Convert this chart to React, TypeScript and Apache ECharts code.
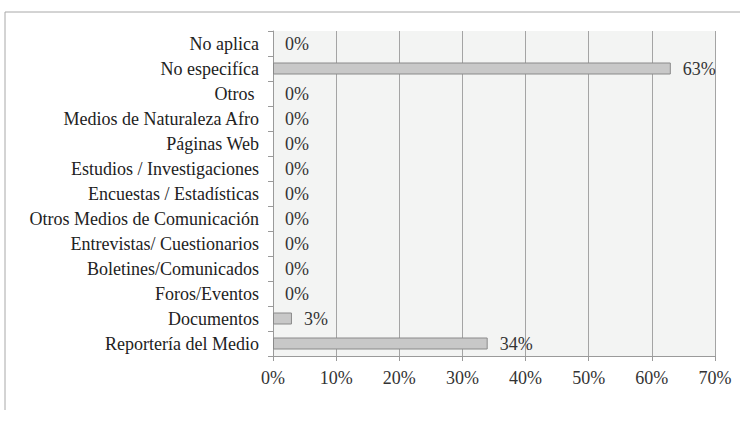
import React, { useEffect, useRef } from "react";
import * as echarts from "echarts";

const categories = [
  "Reportería del Medio",
  "Documentos",
  "Foros/Eventos",
  "Boletines/Comunicados",
  "Entrevistas/ Cuestionarios",
  "Otros Medios de Comunicación",
  "Encuestas / Estadísticas",
  "Estudios / Investigaciones",
  "Páginas Web",
  "Medios de Naturaleza Afro",
  "Otros ",
  "No especifíca",
  "No aplica",
];
const values = [34, 3, 0, 0, 0, 0, 0, 0, 0, 0, 0, 63, 0];
const FONT = "Liberation Serif";

export default function App() {
  const ref = useRef<HTMLDivElement>(null);
  useEffect(() => {
    const chart = echarts.init(ref.current!, null, { renderer: "svg" });
    chart.setOption({
      animation: false,
      backgroundColor: "#ffffff",
      textStyle: { fontFamily: FONT },
      graphic: [
        { type: "line", shape: { x1: 5, y1: 12, x2: 740, y2: 12 }, style: { stroke: "#a8a8a8", lineWidth: 1 } },
        { type: "line", shape: { x1: 5, y1: 12, x2: 5, y2: 410 }, style: { stroke: "#a8a8a8", lineWidth: 1 } },
      ],
      grid: { left: 273, right: 25, top: 31, bottom: 65, containLabel: false, show: true, backgroundColor: "#f3f4f3", borderWidth: 0 },
      xAxis: {
        type: "value",
        min: 0,
        max: 70,
        interval: 10,
        axisLabel: { formatter: "{value}%", color: "#333", fontSize: 18, fontFamily: FONT, margin: 13 },
        axisLine: { show: true, lineStyle: { color: "#9a9a9a" } },
        axisTick: { show: true, length: 5, lineStyle: { color: "#9a9a9a" } },
        splitLine: { show: true, lineStyle: { color: "#a4a4a4", width: 1 } },
      },
      yAxis: {
        type: "category",
        data: categories,
        axisLabel: { color: "#222", fontSize: 18, fontFamily: FONT, margin: 14 },
        axisLine: { show: true, lineStyle: { color: "#9a9a9a" } },
        axisTick: { show: true, length: 5, lineStyle: { color: "#9a9a9a" } },
      },
      series: [
        {
          type: "bar",
          data: values.map((v) => (v === 0 ? { value: v, itemStyle: { borderWidth: 0 } } : v)),
          barWidth: 12,
          itemStyle: { color: "#c8c8c8", borderColor: "#8a8a8a", borderWidth: 1 },
          label: {
            show: true,
            position: "right",
            distance: 12,
            formatter: "{c}%",
            color: "#333",
            fontSize: 18,
            fontFamily: FONT,
          },
        },
      ],
    });
    return () => chart.dispose();
  }, []);
  return <div ref={ref} style={{ position: "fixed", left: 0, top: 0, width: 740, height: 421 }} />;
}
